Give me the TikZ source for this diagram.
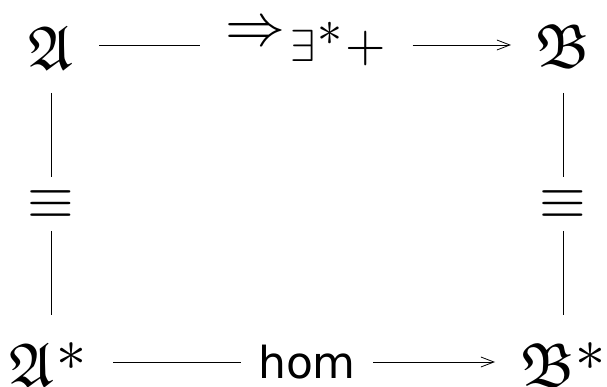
\documentclass[tikz,border=0pt]{standalone}
\usepackage{fontspec}
\usepackage{amssymb}
\DeclareFontShape{OMS}{cmsy}{m}{n}{<->cmsy10}{}
\DeclareFontShape{OMS}{cmsy}{b}{n}{<->cmbsy10}{}
\DeclareFontShape{OML}{cmm}{m}{it}{<->cmmi10}{}
\DeclareFontShape{OT1}{cmr}{m}{n}{<->cmr10}{}
\newfontfamily\labfont{DejaVu Sans}
\usetikzlibrary{arrows.meta}
\newcommand{\fsz}[1]{\fontsize{#1}{#1}\selectfont}
\begin{document}
\begin{tikzpicture}[x=1pt,y=-1pt,
  conn/.style={line width=0.8pt},
  arr/.style={conn,-{Straight Barb[length=13pt,width=10pt,line width=0.8pt]}},
  obj/.style={inner sep=0pt,outer sep=0pt,text height=0pt,text depth=0pt},
]
\useasboundingbox (0,0) rectangle (607,387);
% objects
\node[obj,minimum width=96pt,minimum height=96pt] (A) at (51,45)
  {\raisebox{-25pt}{\fsz{62}$\mathfrak{A}$}};
\node[obj,minimum width=104pt,minimum height=96pt] (B) at (563,45)
  {\raisebox{-23pt}{\fsz{62}$\mathfrak{B}$}};
\node[obj,minimum width=124pt,minimum height=94pt] (As) at (51,362)
  {\raisebox{-24pt}{\fsz{62}$\mathfrak{A}$\kern2pt\raisebox{16pt}{\fsz{60}$\ast$}}\kern6pt};
\node[obj,minimum width=136pt,minimum height=94pt] (Bs) at (563,362)
  {\raisebox{-24pt}{\fsz{62}$\mathfrak{B}$\kern1pt\raisebox{16pt}{\fsz{60}$\ast$}}};
% equivalence labels
\node[obj,minimum width=50pt,minimum height=54pt] (E1) at (51,204)
  {\raisebox{-15pt}{\fsz{60}$\equiv$}};
\node[obj,minimum width=50pt,minimum height=54pt] (E2) at (563,204)
  {\raisebox{-15pt}{\fsz{60}$\equiv$}};
% edge labels
\node[obj,minimum width=213pt,minimum height=20pt] (L1) at (306,45)
  {\raisebox{-1pt}{\fsz{60}$\Rightarrow$}\kern5pt\raisebox{-16.5pt}{\fsz{45}$\exists$\kern2pt\raisebox{16pt}{\fsz{50}$\ast$}\kern3pt\fsz{52}$+$}};
\node[obj,minimum width=132pt,minimum height=20pt] (L2) at (307,362)
  {\raisebox{-16pt}{\fsz{44}\labfont hom}};
% connectors
\draw[conn] (A) -- (A -| L1.west);
\draw[arr] (L1.east |- A) -- (B);
\draw[conn] (As) -- (As -| L2.west);
\draw[arr] (L2.east |- As) -- (Bs);
\draw[conn] (A) -- (E1);
\draw[conn] (E1) -- (As);
\draw[conn] (B) -- (E2);
\draw[conn] (E2) -- (Bs);
\end{tikzpicture}
\end{document}
